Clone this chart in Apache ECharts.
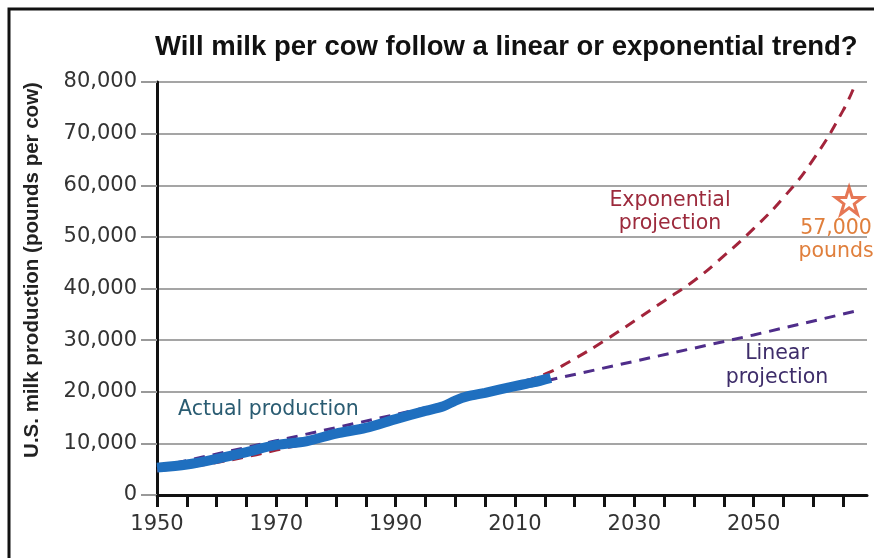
<!DOCTYPE html>
<html>
<head>
<meta charset="utf-8">
<script src="https://cdn.jsdelivr.net/npm/echarts@6/dist/echarts.min.js"></script>
<style>
html,body{margin:0;padding:0;background:#fff;}
#chart{width:874px;height:558px;}
</style>
</head>
<body>
<div id="chart"></div>
<script>
// ---- data ----
var actualYears  = [1950, 1955, 1960, 1965, 1970, 1975, 1980, 1985, 1990, 1995, 1998, 2000, 2002, 2005, 2010, 2013, 2016];
var actualValues = [5300, 5900, 7000, 8300, 9700, 10400, 11900, 13000, 14700, 16300, 17200, 18300, 19100, 19800, 21100, 21800, 22700];

var expYears  = [1950, 1955, 1960, 1965, 1970, 1975, 1980, 1985, 1990, 1995, 2000, 2005, 2010, 2015, 2020, 2025, 2030, 2035, 2040, 2045, 2050, 2055, 2060, 2065, 2067];
var expValues = [4700, 5400, 6300, 7400, 8700, 10000, 11500, 13000, 14700, 16500, 18400, 20100, 21600, 23400, 26400, 29900, 33700, 37600, 41500, 46300, 51600, 57600, 65000, 74500, 79500];

var linYears  = [1950, 1970, 1990, 2010, 2030, 2050, 2067];
var linValues = [5400, 10500, 15600, 20800, 25900, 31000, 35600];

var targetPoint = [2066, 57000];

var xTickValues  = [1950,1955,1960,1965,1970,1975,1980,1985,1990,1995,2000,2005,2010,2015,2020,2025,2030,2035,2040,2045,2050,2055,2060,2065];
var xLabelValues = [1950, 1970, 1990, 2010, 2030, 2050];

function zip(xs, ys){ return xs.map(function(x,i){ return [x, ys[i]]; }); }

var starPath = 'path://M50,2 L61.2,36.2 L97.6,36.2 L68.2,57.4 L79.4,91.6 L50,70.4 L20.6,91.6 L31.8,57.4 L2.4,36.2 L38.8,36.2 Z';
var annFont = '20.5px "DejaVu Sans", sans-serif';

var chart = echarts.init(document.getElementById('chart'));
chart.setOption({
  animation: false,
  backgroundColor: '#fff',
  grid: { left: 157, right: 7, top: 82, bottom: 63, containLabel: false },
  xAxis: {
    type: 'value', min: 1950, max: 2069,
    axisLine: { show: true, lineStyle: { color: '#111', width: 3 } },
    axisTick: { show: true, length: 12, lineStyle: { color: '#111', width: 3 }, customValues: xTickValues },
    axisLabel: { customValues: xLabelValues, color: '#333', fontSize: 21, fontFamily: 'DejaVu Sans', margin: 19,
      formatter: function(v){ return String(v); } },
    splitLine: { show: false }
  },
  yAxis: {
    type: 'value', min: 0, max: 80000, interval: 10000,
    axisLine: { show: true, lineStyle: { color: '#111', width: 3 } },
    axisTick: { show: true, length: 16, lineStyle: { color: '#999', width: 2 } },
    axisLabel: { color: '#333', fontSize: 21, fontFamily: 'DejaVu Sans', margin: 20,
      formatter: function(v){ return v.toString().replace(/\B(?=(\d{3})+(?!\d))/g, ','); } },
    splitLine: { show: true, lineStyle: { color: '#a5a5a5', width: 2 } }
  },
  series: [
    { name: 'Linear projection', type: 'line', data: zip(linYears, linValues), showSymbol: false,
      lineStyle: { color: '#4f2d8a', width: 3, type: [11, 8] }, z: 2 },
    { name: 'Exponential projection', type: 'line', data: zip(expYears, expValues), showSymbol: false, smooth: true,
      lineStyle: { color: '#a3243b', width: 3, type: [11, 8] }, z: 3 },
    { name: 'Actual production', type: 'line', data: zip(actualYears, actualValues), showSymbol: false, smooth: 0.3,
      lineStyle: { color: '#1f6fbf', width: 10, cap: 'butt' }, z: 4 },
    { name: 'Target', type: 'scatter', data: [targetPoint], symbol: starPath, symbolSize: 27,
      itemStyle: { color: '#fff', borderColor: '#e0552a', borderWidth: 3 }, z: 5 }
  ],
  graphic: [
    { type: 'rect', shape: { x: 9, y: 9, width: 900, height: 600 }, style: { fill: 'none', stroke: '#111', lineWidth: 3 }, silent: true },
    { type: 'text', x: 155, y: 47, style: { text: 'Will milk per cow follow a linear or exponential trend?', fill: '#111',
        font: 'bold 27.5px "Liberation Sans", Arial, sans-serif', textAlign: 'left', textVerticalAlign: 'middle' } },
    { type: 'text', x: 32, y: 270, rotation: Math.PI / 2, style: { text: 'U.S. milk production (pounds per cow)', fill: '#222',
        font: 'bold 20.5px "Liberation Sans", Arial, sans-serif', textAlign: 'center', textVerticalAlign: 'middle' } },
    { type: 'text', x: 178, y: 410, style: { text: 'Actual production', fill: '#2a5c72',
        font: annFont, textAlign: 'left', textVerticalAlign: 'middle' } },
    { type: 'text', x: 670, y: 212, style: { text: 'Exponential\nprojection', fill: '#9c2a3c', lineHeight: 23,
        font: annFont, textAlign: 'center', textVerticalAlign: 'middle' } },
    { type: 'text', x: 777, y: 366, style: { text: 'Linear\nprojection', fill: '#3e2d6a', lineHeight: 24,
        font: annFont, textAlign: 'center', textVerticalAlign: 'middle' } },
    { type: 'text', x: 836, y: 240, style: { text: '57,000\npounds', fill: '#e07f3c', lineHeight: 23,
        font: annFont, textAlign: 'center', textVerticalAlign: 'middle' } }
  ]
});
</script>
</body>
</html>
